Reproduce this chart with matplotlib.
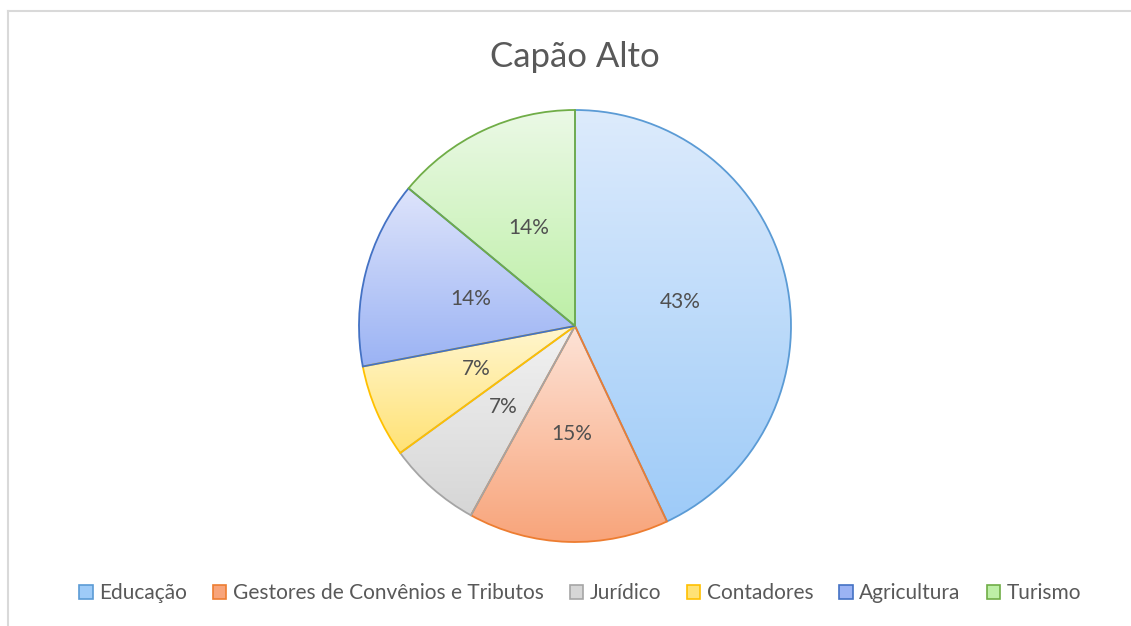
import numpy as np
import matplotlib.pyplot as plt
from matplotlib.patches import Patch
from matplotlib.lines import Line2D

plt.rcParams['font.family'] = ['Lato', 'DejaVu Sans']

# data
categorias = ['Educação', 'Gestores de Convênios e Tributos', 'Jurídico',
              'Contadores', 'Agricultura', 'Turismo']
percentuais = [43, 15, 7, 7, 14, 14]

# excel style colours: edge, light top, darker bottom
bordas = ['#5B9BD5', '#ED7D31', '#A5A5A5', '#FFC000', '#4472C4', '#70AD47']
claros = ['#DDEBFC', '#FDE3D7', '#F2F2F2', '#FFF6CF', '#DEE4FB', '#EBF9E6']
escuros = ['#9ECBF8', '#F8A47A', '#D6D6D6', '#FFE275', '#9BB3F4', '#BDEFA6']

W, H = 1131, 626
fig = plt.figure(figsize=(W / 100, H / 100), dpi=100)

# chart area border (top + left visible, rest runs off the picture)
fig.add_artist(Line2D([8 / W, 8 / W], [0, 1 - 11 / H], transform=fig.transFigure,
                      color='#D9D9D9', lw=1.5))
fig.add_artist(Line2D([8 / W, 1], [1 - 11 / H, 1 - 11 / H], transform=fig.transFigure,
                      color='#D9D9D9', lw=1.5))

cx, cy, r = 575, 326, 216
pad = 4
ax = fig.add_axes([(cx - r - pad) / W, (H - cy - r - pad) / H,
                   2 * (r + pad) / W, 2 * (r + pad) / H])

wedges, textos, autotextos = ax.pie(
    percentuais, startangle=90, counterclock=False,
    autopct='%1.0f%%', pctdistance=0.5,
    wedgeprops=dict(linewidth=1.3),
    textprops=dict(color='#505050', fontsize=15))

grad = np.linspace(0, 1, 256)[:, None]
for i, w in enumerate(wedges):
    w.set_facecolor('none')
    w.set_edgecolor(bordas[i])
    w.set_zorder(3)
    bb = w.get_path().get_extents()
    c0 = np.array(plt.matplotlib.colors.to_rgb(claros[i]))
    c1 = np.array(plt.matplotlib.colors.to_rgb(escuros[i]))
    img = c0[None, None, :] * (1 - grad[:, :, None]) + c1[None, None, :] * grad[:, :, None]
    im = ax.imshow(img, extent=[bb.x0, bb.x1, bb.y0, bb.y1], origin='upper',
                   aspect='auto', zorder=2, interpolation='bilinear')
    im.set_clip_path(w)

for t in autotextos:
    t.set_zorder(5)

lim = (r + pad) / r
ax.set_xlim(-lim, lim)
ax.set_ylim(-lim, lim)
ax.axis('off')

fig.text(cx / W, 1 - 57 / H, 'Capão Alto', ha='center', va='center',
         fontsize=25, color='#595959')

handles = [Patch(facecolor=escuros[i], edgecolor=bordas[i], lw=1.2) for i in range(len(categorias))]
fig.legend(handles, categorias, loc='center', bbox_to_anchor=(580 / W, 1 - 593 / H),
           ncol=6, frameon=False, fontsize=15, labelcolor='#595959',
           handlelength=0.65, handleheight=0.65, handletextpad=0.3, columnspacing=1.25)

plt.savefig('out.png', dpi=100)
